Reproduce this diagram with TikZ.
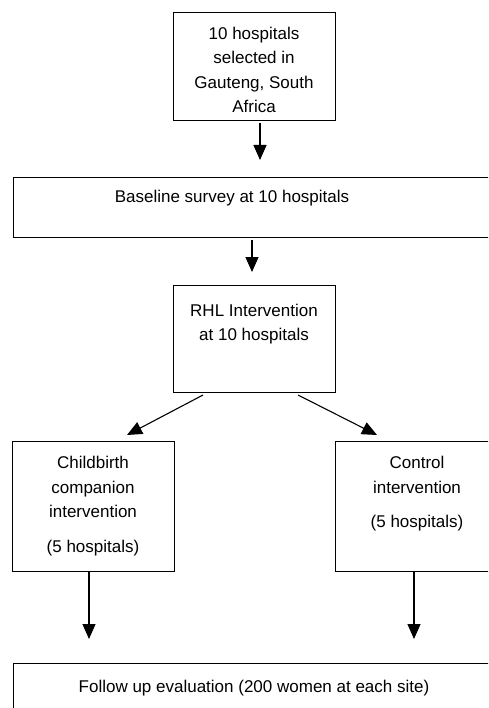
\documentclass[tikz,border=0pt]{standalone}
\usepackage{fontspec}
\setmainfont{Liberation Sans}
\usetikzlibrary{arrows.meta}
\begin{document}
\begin{tikzpicture}[x=1pt,y=-1pt,
  box/.style={draw=black, line width=0.9pt, fill=none, inner sep=0pt},
  txt/.style={align=center, inner sep=0pt, font=\fontsize{17}{24.5}\selectfont},
  arr/.style={line width=1.1pt, -{Triangle[length=15pt,width=13pt]}}]
\useasboundingbox (0,0) rectangle (488,708);
\clip (0,0) rectangle (488,708);
% boxes
\node[box, minimum width=162pt, minimum height=108pt] (top) at (254,66) {};
\node[box, minimum width=490pt, minimum height=60pt] (base) at (258,207) {};
\node[box, minimum width=162pt, minimum height=107pt] (rhl) at (254,338.5) {};
\node[box, minimum width=162pt, minimum height=130pt] (child) at (93,506) {};
\node[box, minimum width=170pt, minimum height=130pt] (ctrl) at (420,506) {};
\node[box, minimum width=490pt, minimum height=60pt] (fol) at (258,693) {};
% texts
\node[txt] (toptxt) at (254,70) {10 hospitals\\selected in\\Gauteng, South\\Africa};
\node[txt] (basetxt) at (232,198) {Baseline survey at 10 hospitals};
\node[txt] (rhltxt) at (254,324) {RHL Intervention\\at 10 hospitals};
\node[txt] (childtxt) at (93,506) {Childbirth\\companion\\intervention\\[10pt](5 hospitals)};
\node[txt] (ctrltxt) at (417,494) {Control\\intervention\\[10pt](5 hospitals)};
\node[txt] (foltxt) at (254,688) {Follow up evaluation (200 women at each site)};
% connector ends (arrows float between the boxes)
\coordinate (a1s) at (260,123);
\coordinate (a1e) at (260,160);
\coordinate (a2s) at (252,240);
\coordinate (a2e) at (252,272);
\coordinate (a3s) at (203,395);
\coordinate (a3e) at (127,435);
\coordinate (a4s) at (298,395);
\coordinate (a4e) at (377,435);
\coordinate (a5s) at (89,572);
\coordinate (a5e) at (89,639);
\coordinate (a6s) at (414,572);
\coordinate (a6e) at (414,639);
\draw[arr] (a1s) -- (a1e);
\draw[arr] (a2s) -- (a2e);
\draw[arr] (a3s) -- (a3e);
\draw[arr] (a4s) -- (a4e);
\draw[arr] (a5s) -- (a5e);
\draw[arr] (a6s) -- (a6e);
\end{tikzpicture}
\end{document}
